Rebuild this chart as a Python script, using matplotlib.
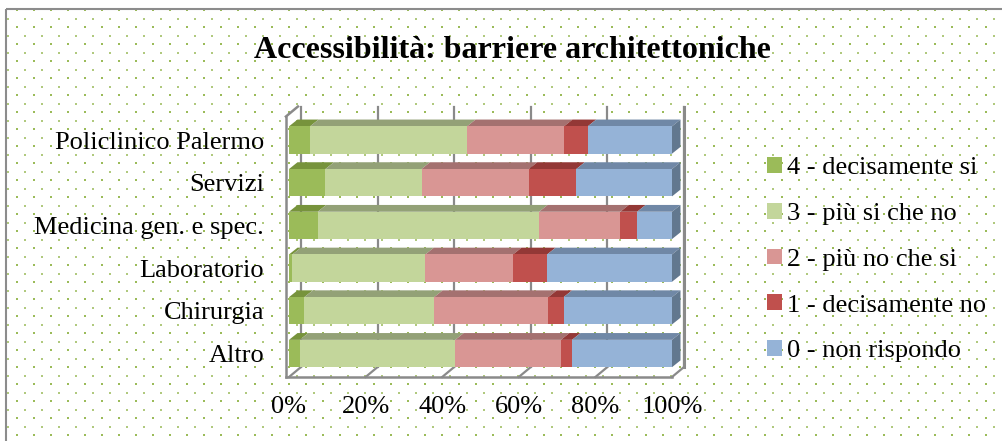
import numpy as np
import matplotlib
matplotlib.use("Agg")
import matplotlib.pyplot as plt
from matplotlib.patches import Polygon, Patch, Rectangle

# ─── Data (share of answers, %) ──────────────────────────────────────────────
categories = ["Altro", "Chirurgia", "Laboratorio", "Medicina gen. e spec.",
              "Servizi", "Policlinico Palermo"]
decisamente_si = [2.8, 4.0, 0.9, 7.5, 9.5, 5.5]
piu_si_che_no  = [40.6, 33.9, 34.7, 57.8, 25.1, 41.0]
piu_no_che_si  = [27.6, 29.8, 22.9, 21.2, 28.0, 25.3]
decisamente_no = [2.9, 4.0, 8.9, 4.4, 12.4, 6.2]
non_rispondo   = [26.1, 28.3, 32.6, 9.1, 25.0, 22.0]
x_ticks = [0, 20, 40, 60, 80, 100]
x_tick_labels = ["0%", "20%", "40%", "60%", "80%", "100%"]

series = [
    ("4 - decisamente si",  decisamente_si, "#9BBB59", "#77933C"),
    ("3 - più si che no",   piu_si_che_no,  "#C3D69B", "#93A177"),
    ("2 - più no che si",   piu_no_che_si,  "#D99694", "#A47170"),
    ("1 - decisamente no",  decisamente_no, "#C0504D", "#933836"),
    ("0 - non rispondo",    non_rispondo,   "#95B3D7", "#7088A6"),
]
SIDE_BLUE = "#62788F"
GRID_COL = "#8A8A8A"
FS = 19

W, H, DPI = 1003, 441, 100
plt.rcParams["font.family"] = ["Liberation Serif", "DejaVu Serif"]

fig = plt.figure(figsize=(W / DPI, H / DPI), dpi=DPI)
fig.patch.set_facecolor("white")

# ─── Dotted background and outer frame (pixel coordinates) ──────────────────
bg = fig.add_axes([0, 0, 1, 1], zorder=0)
bg.set_xlim(0, W); bg.set_ylim(H, 0); bg.axis("off")
for i, yy in enumerate(np.arange(10, H, 8.5)):
    xs = np.arange(16.7 if i % 2 == 0 else 8.2, W, 17.0)
    bg.scatter(xs, np.full_like(xs, yy), marker="s",
               s=2.4 if i % 2 == 0 else 1.3,
               color="#9BBB59" if i % 2 == 0 else "#B0C97E",
               linewidths=0)
bg.add_patch(Rectangle((6.5, 8.5), 1200, 600, fill=False,
                       edgecolor="#8C8C8C", lw=1.5, clip_on=False))

# ─── Main axes ───────────────────────────────────────────────────────────────
row_px = 42.7
ylo, yhi = -0.55, 5.55
ax_h_px = (yhi - ylo) * row_px
ax = fig.add_axes([289 / W, (H - 377) / H, 383 / W, ax_h_px / H], zorder=1)
ax.patch.set_alpha(0)
ax.set_xlim(0, 100)
ax.set_ylim(ylo, yhi)
for s in ax.spines.values():
    s.set_visible(False)

px_x = 100 / 383.0          # data units per pixel
px_y = 1 / row_px

# wall / floor depth and bar depth, in pixels
wdx, wdy = 12 * px_x, 10 * px_y
bdx, bdy = 8.5 * px_x, 6.8 * px_y

# back wall gridlines and floor lines
for xv in x_ticks:
    ax.plot([xv + wdx, xv + wdx], [ylo + wdy, yhi + wdy], color=GRID_COL,
            lw=1.6, zorder=1, clip_on=False)
    ax.plot([xv, xv + wdx], [ylo, ylo + wdy], color=GRID_COL,
            lw=1.6, zorder=1, clip_on=False)
# left wall, floor front edge
ax.plot([-0.8, -0.8], [ylo, yhi], color=GRID_COL, lw=1.8, zorder=1, clip_on=False)
ax.plot([-0.8, -0.8 + wdx], [yhi, yhi + wdy], color=GRID_COL, lw=1.8,
        zorder=1, clip_on=False)
ax.plot([-0.8, 100], [ylo, ylo], color=GRID_COL, lw=1.8, zorder=1, clip_on=False)

# ─── Stacked 3D-looking bars ─────────────────────────────────────────────────
y = np.arange(len(categories))
bar_h = 0.64
left = np.zeros(len(categories))
totals = np.sum([s[1] for s in series], axis=0)
handles = []
for label, vals, col, top_col in series:
    pct = np.array(vals) / totals * 100
    ax.barh(y, pct, left=left, height=bar_h, color=col, edgecolor="none", zorder=3)
    for yi, l0, w in zip(y, left, pct):
        top = yi + bar_h / 2
        ax.add_patch(Polygon([(l0, top), (l0 + w, top),
                              (l0 + w + bdx, top + bdy), (l0 + bdx, top + bdy)],
                             closed=True, facecolor=top_col, edgecolor="none",
                             zorder=2.5, clip_on=False))
    left = left + pct
    handles.append(Patch(facecolor=col, edgecolor="none", label=label))

# right side face of each bar
for yi, r in zip(y, left):
    b, t = yi - bar_h / 2, yi + bar_h / 2
    ax.add_patch(Polygon([(r, b), (r, t), (r + bdx, t + bdy), (r + bdx, b + bdy)],
                         closed=True, facecolor=SIDE_BLUE, edgecolor="none",
                         zorder=2.5, clip_on=False))

# right wall edge
ax.plot([100 + wdx, 100 + wdx], [ylo + wdy, yhi + wdy], color=GRID_COL,
        lw=2.2, zorder=4, clip_on=False)

# ─── Ticks, labels, title, legend ────────────────────────────────────────────
ax.set_yticks(y, categories, fontsize=FS)
ax.set_xticks(x_ticks, x_tick_labels, fontsize=FS)
ax.tick_params(axis="y", length=0, pad=18)
ax.tick_params(axis="x", length=0, pad=14)

fig.text(512 / W, 1 - 50 / H, "Accessibilità: barriere architettoniche",
         ha="center", va="center", fontsize=23, fontweight="bold")

fig.legend(handles=handles, loc="upper left",
           bbox_to_anchor=(767 / W, 1 - 157 / H), frameon=False,
           fontsize=FS, handlelength=0.55, handleheight=0.55,
           handletextpad=0.22, labelspacing=0.89, borderaxespad=0,
           borderpad=0)

fig.savefig("out.png", dpi=DPI, facecolor="white")
